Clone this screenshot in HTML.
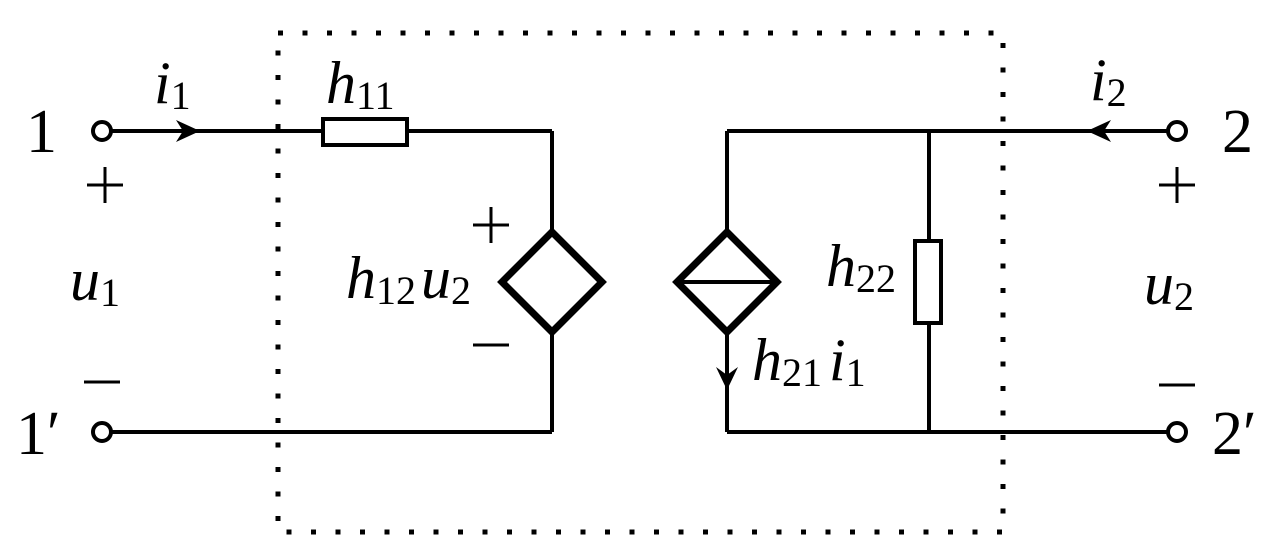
<!DOCTYPE html>
<html><head><meta charset="utf-8"><style>
html,body{margin:0;padding:0;background:#fff;}
svg{display:block}
text{font-family:"Liberation Serif",serif;fill:#000}
.it{font-style:italic}
</style></head><body>
<svg width="1280" height="540" viewBox="0 0 1280 540" xmlns="http://www.w3.org/2000/svg">
<rect x="278" y="33" width="725" height="499" fill="none" stroke="#000" stroke-width="5" stroke-dasharray="5 19.5"/>
<g stroke="#000" stroke-width="4" fill="none">
<line x1="111" y1="131" x2="323" y2="131"/>
<line x1="407" y1="131" x2="552" y2="131"/>
<rect x="323" y="119" width="84" height="26" fill="#fff"/>
<line x1="552" y1="131" x2="552" y2="432"/>
<line x1="111" y1="432" x2="552" y2="432"/>
<line x1="727" y1="131" x2="1168" y2="131"/>
<line x1="727" y1="131" x2="727" y2="232"/>
<line x1="727" y1="332" x2="727" y2="432"/>
<line x1="929" y1="131" x2="929" y2="432"/>
<rect x="915" y="241" width="26" height="82" fill="#fff"/>
<line x1="727" y1="432" x2="1168" y2="432"/>
<circle cx="102" cy="131" r="9" fill="#fff"/>
<circle cx="102" cy="432" r="9" fill="#fff"/>
<circle cx="1177" cy="131" r="9" fill="#fff"/>
<circle cx="1177" cy="432" r="9" fill="#fff"/>
</g>
<g stroke="#000" stroke-width="7" fill="#fff" stroke-linejoin="miter">
<polygon points="552,232 602,282 552,332 502,282"/>
<polygon points="727,232 777,282 727,332 677,282"/>
</g>
<line x1="677" y1="282" x2="777" y2="282" stroke="#000" stroke-width="4"/>
<g stroke="#000" stroke-width="3">
<line x1="87" y1="185" x2="123" y2="185"/><line x1="105" y1="167" x2="105" y2="203"/>
<line x1="84" y1="382" x2="120" y2="382"/>
<line x1="473" y1="225" x2="509" y2="225"/><line x1="491" y1="207" x2="491" y2="243"/>
<line x1="473" y1="345" x2="509" y2="345"/>
<line x1="1159" y1="185" x2="1195" y2="185"/><line x1="1177" y1="167" x2="1177" y2="203"/>
<line x1="1159" y1="385" x2="1195" y2="385"/>
</g>
<g fill="#000">
<polygon points="200,131 176,120 183,131 176,142"/>
<polygon points="1087,131 1111,120 1104,131 1111,142"/>
<polygon points="727,390 716,367 727,375 738,367"/>
</g>
<g font-size="62" font-weight="bold">
<text x="26" y="152" font-weight="normal">1</text>
<text x="16" y="454" font-weight="normal">1′</text>
<text x="1222" y="152" font-weight="normal">2</text>
<text x="1212" y="454" font-weight="normal">2′</text>
</g>
<g font-size="60">
<text x="154" y="103" class="it">i<tspan font-size="40" font-style="normal" dy="6">1</tspan></text>
<text x="326" y="103" class="it">h<tspan font-size="40" font-style="normal" dy="6">11</tspan></text>
<text x="1090" y="100" class="it">i<tspan font-size="40" font-style="normal" dy="6">2</tspan></text>
<text x="70" y="300" class="it">u<tspan font-size="40" font-style="normal" dy="6">1</tspan></text>
<text x="1144" y="304" class="it">u<tspan font-size="40" font-style="normal" dy="6">2</tspan></text>
<text x="346" y="298" class="it">h<tspan font-size="40" font-style="normal" dy="6">12</tspan><tspan dy="-6" dx="5">u</tspan><tspan font-size="40" font-style="normal" dy="6">2</tspan></text>
<text x="826" y="286" class="it">h<tspan font-size="40" font-style="normal" dy="6">22</tspan></text>
<text x="752" y="380" class="it">h<tspan font-size="40" font-style="normal" dy="6">21</tspan><tspan dy="-6" dx="7">i</tspan><tspan font-size="40" font-style="normal" dy="6">1</tspan></text>
</g>
</svg>
</body></html>
